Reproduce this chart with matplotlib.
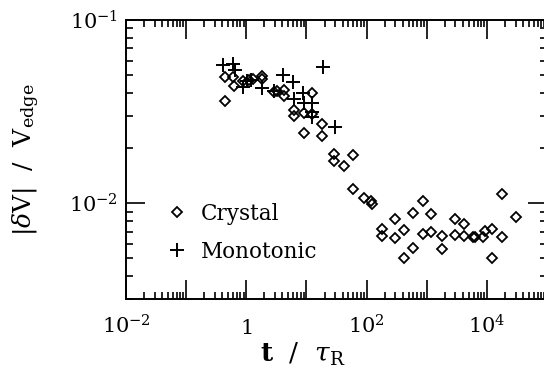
import matplotlib
matplotlib.use("Agg")
import matplotlib.pyplot as plt
from matplotlib.ticker import FixedLocator, LogLocator, NullFormatter

# Crystal runs
crystal_t = [0.44, 0.44, 0.60, 0.625, 0.87, 1.13, 1.30, 1.85, 1.85, 2.87, 3.28,
             4.27, 4.3, 6.2, 6.2, 9.2, 9.2, 12.4, 12.4, 18.4, 18.4,
             29.2, 29.2, 41.8, 60.5, 60.5, 90.2, 117, 122,
             179, 179, 297, 297, 414, 414, 593, 593, 881, 881, 1197, 1197,
             1778, 1778, 2904, 2904, 4217, 4217, 5876, 6442, 8730, 9330,
             12160, 12160, 18100, 18100, 30800]
crystal_dv = [0.0490, 0.0360, 0.0490, 0.0436, 0.0466, 0.0470, 0.0475, 0.0497, 0.0477, 0.0407, 0.0410,
              0.0414, 0.0386, 0.0322, 0.0300, 0.0243, 0.0309, 0.0399, 0.0306, 0.0272, 0.0234,
              0.01866, 0.0170, 0.0160, 0.0184, 0.0120, 0.01064, 0.0103, 0.00995,
              0.00721, 0.00663, 0.00815, 0.00649, 0.00711, 0.00505, 0.00889, 0.00568, 0.0103, 0.00678, 0.00871, 0.00700,
              0.00663, 0.00561, 0.00824, 0.00671, 0.00774, 0.00663, 0.00655, 0.00655, 0.00655, 0.00706,
              0.00721, 0.00500, 0.01119, 0.00655, 0.00841]

# Monotonic runs
mono_t = [0.41, 0.60, 0.65, 0.88, 1.02, 1.2, 1.82, 2.9, 4.06, 5.94, 6.2,
          8.7, 9.2, 12.2, 12.2, 12.4, 18.6, 29.5]
mono_dv = [0.0568, 0.0575, 0.0533, 0.0430, 0.0466, 0.0470, 0.0425, 0.0411, 0.0500, 0.0458, 0.0370,
           0.0399, 0.0351, 0.0351, 0.0316, 0.0296, 0.0553, 0.0260]

x_ticks = [1e-2, 1e-1, 1, 1e1, 1e2, 1e3, 1e4, 1e5]
x_labels = [r'$10^{-2}$', '', r'$1$', '', r'$10^{2}$', '', r'$10^{4}$', '']
y_ticks = [1e-2, 1e-1]
y_labels = [r'$10^{-2}$', r'$10^{-1}$']

plt.rcParams['font.family'] = ['DejaVu Serif']
plt.rcParams['mathtext.fontset'] = 'dejavuserif'

fig = plt.figure(figsize=(5.44, 3.73), dpi=100)
ax = fig.add_axes([126 / 544, 74 / 373, 421 / 544, 279 / 373])

ax.plot(crystal_t, crystal_dv, linestyle='none', marker='D', markersize=5.5,
        mfc='none', mec='black', mew=1.3, label='Crystal')
ax.plot(mono_t, mono_dv, linestyle='none', marker='+', markersize=9.5,
        mec='black', mew=1.4, label='Monotonic')

ax.set_xscale('log')
ax.set_yscale('log')
ax.set_xlim(1e-2, 1e5)
ax.set_ylim(3e-3, 1e-1)

ax.xaxis.set_major_locator(FixedLocator(x_ticks))
ax.set_xticklabels(x_labels)
ax.xaxis.set_minor_locator(LogLocator(base=10, subs=range(2, 10), numticks=20))
ax.xaxis.set_minor_formatter(NullFormatter())
ax.yaxis.set_major_locator(FixedLocator(y_ticks))
ax.set_yticklabels(y_labels)
ax.yaxis.set_minor_locator(LogLocator(base=10, subs=range(2, 10), numticks=20))
ax.yaxis.set_minor_formatter(NullFormatter())

ax.tick_params(which='both', direction='in', top=True, right=True, width=1.2, colors='black')
ax.tick_params(which='major', length=14)
ax.tick_params(which='minor', length=5)
ax.tick_params(axis='x', which='major', labelsize=15, pad=25)
ax.tick_params(axis='y', which='major', labelsize=15, pad=6)
for t in ax.xaxis.get_major_ticks():
    t.label1.set_verticalalignment('baseline')
for s in ax.spines.values():
    s.set_linewidth(1.4)

ax.set_xlabel(r'$\mathbf{t}\ \ /\ \ \tau_{\mathrm{R}}$', fontsize=19)
ax.xaxis.set_label_coords(0.42, -0.15)
ax.set_ylabel(r'$|\delta\mathrm{V}|\ \ /\ \ \mathrm{V}_{\mathrm{edge}}$', fontsize=18)
ax.yaxis.set_label_coords(-0.20, 0.50)

leg = ax.legend(loc='upper left', bbox_to_anchor=(0.095, 0.345), frameon=False,
                fontsize=15.5, handlelength=1.0, handletextpad=0.6, labelspacing=0.75,
                borderpad=0, borderaxespad=0)

fig.savefig('out.png', dpi=100)
